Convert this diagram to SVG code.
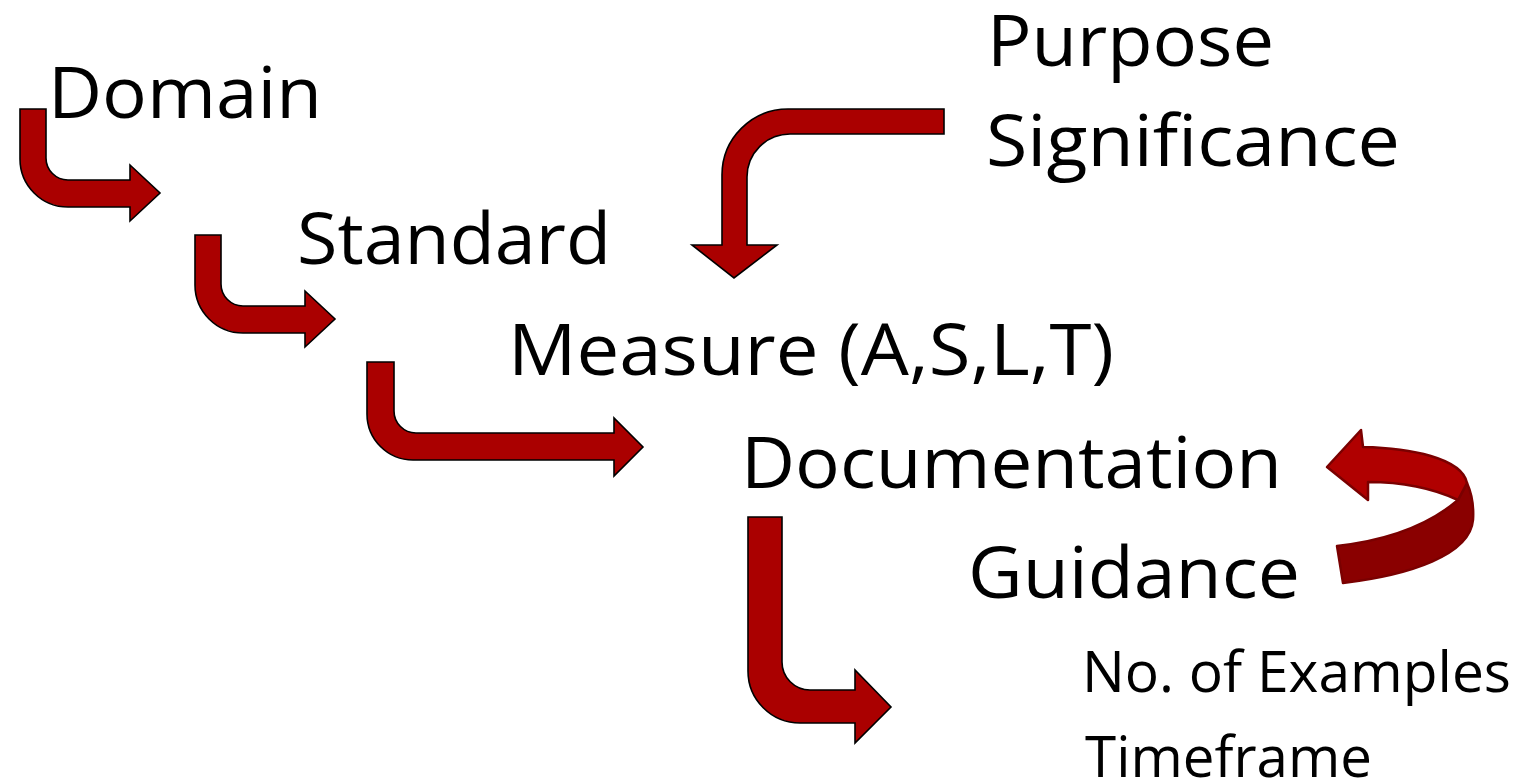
<svg xmlns="http://www.w3.org/2000/svg" width="1516" height="783" viewBox="0 0 1516 783">
<style>
.lbl{font-family:"Open Sans","Noto Sans","Liberation Sans",sans-serif;font-size:72px;fill:#000}
.sm{font-size:56px}
.arr{fill:#aa0000;stroke:#000;stroke-width:1.6;stroke-linejoin:miter}
</style>
<rect width="1516" height="783" fill="#fff"/>
<g id="connectors">
<path id="a-domain" class="arr" d="M20,109 H46 V158 A22,22 0 0 0 68,180 H130 V165 L160,193 L130,221 V207 H68 A48,48 0 0 1 20,159 Z"/>
<path id="a-standard" class="arr" transform="translate(175,126)" d="M20,109 H46 V158 A22,22 0 0 0 68,180 H130 V165 L160,193 L130,221 V207 H68 A48,48 0 0 1 20,159 Z"/>
<path id="a-measure" class="arr" d="M367,362 H394 V411 A22,22 0 0 0 416,433 H614 V418 L643,447 L614,476 V460 H413 A46,46 0 0 1 367,414 Z"/>
<path id="a-doc" class="arr" d="M748,517 H782 V662 A28,28 0 0 0 810,690 H855 V670 L891,707 L855,743 V723 H800 A52,52 0 0 1 748,671 Z"/>
<path id="a-purpose" class="arr" d="M944,109 V134 H790 A43,43 0 0 0 747,177 V245 H777 L734,278 L692,245 H722 V175 A66,66 0 0 1 788,109 Z"/>
<g id="a-uturn">
<path d="M1458,500 C1430,524 1390,540 1337,546 L1343,583 C1410,575 1470,555 1473,520 C1474,505 1471,492 1467,483 Z" fill="#8a0000" stroke="#7a0000" stroke-width="2.5" stroke-linejoin="round"/>
<path d="M1327,467 L1361,430 L1363,447 C1410,448 1462,458 1467,483 L1458,500 C1430,487 1400,482 1368,482 L1368,500 Z" fill="#b00000" stroke="#7a0000" stroke-width="2.5" stroke-linejoin="round"/>
</g>
</g>
<g id="n-purpose"><text class="lbl" x="987" y="66" textLength="287" lengthAdjust="spacingAndGlyphs">Purpose</text>
<text class="lbl" x="986" y="166" textLength="414" lengthAdjust="spacingAndGlyphs">Significance</text></g>
<g id="n-domain"><text class="lbl" x="48" y="118" textLength="274" lengthAdjust="spacingAndGlyphs">Domain</text></g>
<g id="n-standard"><text class="lbl" x="297" y="264" textLength="314" lengthAdjust="spacingAndGlyphs">Standard</text></g>
<g id="n-measure"><text class="lbl" x="508" y="375" textLength="606" lengthAdjust="spacingAndGlyphs">Measure (A,S,L,T)</text></g>
<g id="n-documentation"><text class="lbl" x="741" y="488" textLength="541" lengthAdjust="spacingAndGlyphs">Documentation</text></g>
<g id="n-guidance"><text class="lbl" x="968" y="598" textLength="332" lengthAdjust="spacingAndGlyphs">Guidance</text></g>
<g id="n-examples"><text class="lbl sm" x="1082" y="692" textLength="429" lengthAdjust="spacingAndGlyphs">No. of Examples</text></g>
<g id="n-timeframe"><text class="lbl sm" x="1085" y="777" textLength="287" lengthAdjust="spacingAndGlyphs">Timeframe</text></g>
</svg>
